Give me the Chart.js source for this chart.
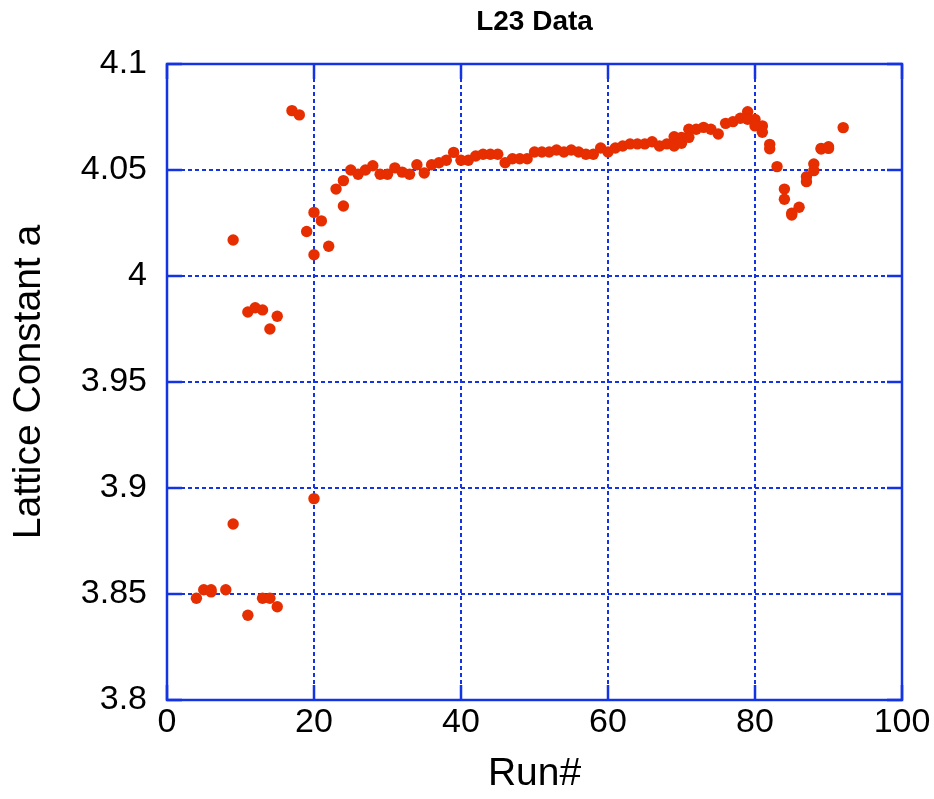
<!DOCTYPE html>
<html>
<head>
<meta charset="utf-8">
<title>L23 Data</title>
<script src="https://cdn.jsdelivr.net/npm/chart.js@4.4.1/dist/chart.umd.min.js"></script>
<style>
  html, body { margin: 0; padding: 0; background: #ffffff; }
  #chart { display: block; }
</style>
</head>
<body>
<canvas id="chart" width="934" height="799"></canvas>
<script>
// L23 lattice constant vs run number
const runs = [
  4, 5, 6, 6, 8, 9, 9, 11, 11, 12, 13, 13, 14, 14, 15, 15,
  17, 18, 19, 20, 20, 20, 21, 22, 23, 24, 24,
  25, 26, 27, 28, 29, 30, 31, 32, 33, 34, 35, 36, 37, 38, 39, 40,
  41, 42, 43, 44, 45, 46, 47, 48, 49, 50, 51, 52, 53, 54, 55, 56,
  57, 58, 59, 60, 61, 62, 63, 64, 65, 66, 67, 68, 69, 69, 70, 70,
  71, 71, 72, 73, 74, 75, 76, 77, 78, 79, 79, 80, 80, 81, 81, 82, 82,
  83, 84, 84, 85, 85, 86, 87, 87, 88, 88, 89, 89, 90, 90, 92
];
const latticeA = [
  3.848, 3.852, 3.852, 3.851, 3.852, 3.883, 4.017, 3.840, 3.983, 3.985, 3.848, 3.984, 3.848, 3.975, 3.844, 3.981,
  4.078, 4.076, 4.021, 3.895, 4.010, 4.030, 4.026, 4.014, 4.041, 4.045, 4.033,
  4.050, 4.048, 4.050, 4.052, 4.048, 4.048, 4.051, 4.049, 4.048, 4.0525, 4.0486, 4.0525, 4.0534, 4.0546, 4.0583, 4.0546,
  4.0546, 4.0566, 4.0574, 4.0574, 4.0574, 4.0534, 4.0553, 4.0553, 4.0553, 4.0585, 4.0585, 4.0585, 4.0594, 4.0585, 4.0594, 4.0585,
  4.0574, 4.0574, 4.0604, 4.0585, 4.0604, 4.0613, 4.0623, 4.0623, 4.0623, 4.0633, 4.0613, 4.0623, 4.0657, 4.0613, 4.0654, 4.0626,
  4.0692, 4.0654, 4.0692, 4.0701, 4.0692, 4.067, 4.072, 4.0728, 4.0744, 4.0775, 4.0739, 4.0739, 4.0708, 4.0708, 4.0678, 4.0621, 4.060,
  4.0516, 4.041, 4.0362, 4.0296, 4.0288, 4.0324, 4.0468, 4.0445, 4.0528, 4.0497, 4.0602, 4.0599, 4.061, 4.0602, 4.070
];

const xTicks = [0, 20, 40, 60, 80, 100];
const yTicks = [3.8, 3.85, 3.9, 3.95, 4, 4.05, 4.1];

const BLUE = 'rgb(20, 52, 228)';
const RED = '#e62e00';
const FONT = "'Liberation Sans', Arial, sans-serif";

// solid frame + short inward tick marks, like the original plot
const framePlugin = {
  id: 'frame',
  beforeDatasetsDraw(chart) {
    const { ctx, chartArea: a, scales } = chart;
    const len = 15;
    ctx.save();
    ctx.strokeStyle = BLUE;
    ctx.lineWidth = 2.5;
    ctx.setLineDash([]);
    ctx.beginPath();
    scales.y.ticks.forEach(t => {
      const py = scales.y.getPixelForValue(t.value);
      ctx.moveTo(a.left, py); ctx.lineTo(a.left + len, py);
      ctx.moveTo(a.right, py); ctx.lineTo(a.right - len, py);
    });
    scales.x.ticks.forEach(t => {
      const px = scales.x.getPixelForValue(t.value);
      ctx.moveTo(px, a.top); ctx.lineTo(px, a.top + len);
      ctx.moveTo(px, a.bottom); ctx.lineTo(px, a.bottom - len);
    });
    ctx.stroke();
    ctx.strokeRect(a.left, a.top, a.right - a.left, a.bottom - a.top);
    ctx.restore();
  }
};

const ctx = document.getElementById('chart').getContext('2d');

new Chart(ctx, {
  type: 'scatter',
  data: {
    datasets: [{
      label: 'L23',
      data: runs.map((r, i) => ({ x: r, y: latticeA[i] })),
      backgroundColor: RED,
      borderColor: RED,
      borderWidth: 0,
      pointRadius: 5.7,
      pointHoverRadius: 5.7
    }]
  },
  options: {
    responsive: false,
    animation: false,
    layout: { padding: { left: 0, right: 32, top: 0, bottom: 0 } },
    plugins: {
      legend: { display: false },
      tooltip: { enabled: false },
      title: {
        display: true,
        text: 'L23 Data',
        fullSize: false,
        color: '#000',
        font: { family: FONT, size: 28, weight: 'bold' },
        padding: { top: 5, bottom: 25.4 }
      }
    },
    scales: {
      x: {
        type: 'linear',
        min: 0,
        max: 100,
        afterBuildTicks: s => { s.ticks = xTicks.map(v => ({ value: v })); },
        afterFit: s => { s.height = 99; },
        ticks: {
          color: '#000',
          font: { family: FONT, size: 34 },
          padding: 2,
          maxRotation: 0
        },
        grid: { color: BLUE, lineWidth: 2, drawTicks: false },
        border: { display: false, dash: [4, 3] },
        title: {
          display: true,
          text: 'Run#',
          color: '#000',
          font: { family: FONT, size: 39 },
          padding: { top: 1, bottom: 1 }
        }
      },
      y: {
        type: 'linear',
        min: 3.8,
        max: 4.1,
        afterBuildTicks: s => { s.ticks = yTicks.map(v => ({ value: v })); },
        afterFit: s => { s.width = 167; },
        ticks: {
          color: '#000',
          font: { family: FONT, size: 34 },
          padding: 20,
          callback: v => String(Math.round(v * 100) / 100)
        },
        grid: { color: BLUE, lineWidth: 2, drawTicks: false },
        border: { display: false, dash: [4, 3] },
        title: {
          display: true,
          text: 'Lattice Constant a',
          color: '#000',
          font: { family: FONT, size: 39 },
          padding: { top: 6, bottom: 6 }
        }
      }
    }
  },
  plugins: [framePlugin]
});
</script>
</body>
</html>
